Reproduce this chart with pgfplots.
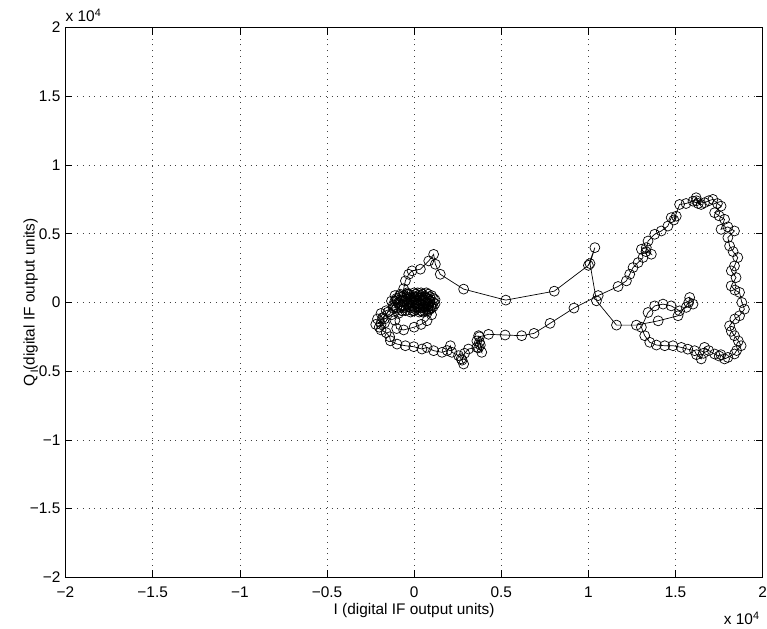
\documentclass[border=0pt]{standalone}
\usepackage{fontspec}
\setmainfont{Liberation Sans}
\usepackage{pgfplots}
\pgfplotsset{compat=1.18}
\begin{document}
\fontsize{15.5}{18}\selectfont
\begin{tikzpicture}
\begin{axis}[name=ax, scale only axis, width=699.3bp, height=551.3bp,
  xmin=-2, xmax=2, ymin=-2, ymax=2,
  xtick={-2,-1.5,-1,-0.5,0,0.5,1,1.5,2},
  ytick={-2,-1.5,-1,-0.5,0,0.5,1,1.5,2},
  xticklabels={−2,−1.5,−1,−0.5,0,0.5,1,1.5,2},
  yticklabels={−2,−1.5,−1,−0.5,0,0.5,1,1.5,2},
  grid=major, grid style={black!75, line width=0.6bp, dash pattern=on 0.8bp off 5bp},
  tick align=inside, major tick length=7bp,
  axis line style={line width=0.8bp},
  every tick/.style={black, line width=0.6bp},
  xticklabel style={font=\fontsize{15.5}{18}\selectfont, inner sep=0pt, anchor=north, yshift=-9bp},
  yticklabel style={font=\fontsize{15.5}{18}\selectfont, inner sep=0pt, anchor=east, xshift=-5bp},
  scaled ticks=false,
]
\addplot[black, line width=0.7bp, mark=o, mark size=5bp, mark options={line width=0.7bp}] coordinates {
(0.00,0.00) (0.04,0.02) (0.07,0.00) (0.05,-0.04) (0.01,-0.05) (-0.03,-0.03) (-0.05,0.01) (-0.02,0.04) (0.02,0.05) (0.06,0.04) (0.09,0.01) (0.08,-0.03) (0.04,-0.06) (-0.01,-0.06) (-0.06,-0.04) (-0.09,0.00) (-0.07,0.04) (-0.03,0.06) (0.01,0.06) (0.05,0.06) (0.09,0.04) (0.11,0.00) (0.10,-0.04) (0.06,-0.06) (0.02,-0.04)
(-0.01,-0.02) (-0.04,0.00) (-0.02,0.03) (0.03,0.03) (0.06,0.02) (0.08,-0.01) (0.05,-0.02) (0.01,-0.01) (-0.03,-0.01) (-0.07,-0.02) (-0.10,0.02) (-0.08,0.06) (-0.04,0.07) (0.02,0.07) (0.07,0.07) (0.10,0.05) (0.12,0.02) (0.11,-0.03) (0.08,-0.06) (0.03,-0.07) (-0.02,-0.07) (-0.07,-0.06) (-0.11,-0.03) (-0.13,0.01) (-0.11,0.05)
(-0.04,-0.02) (-0.08,-0.03) (-0.12,-0.04) (-0.16,-0.06) (-0.19,-0.08) (-0.21,-0.12) (-0.22,-0.16) (-0.20,-0.18) (-0.17,-0.15) (-0.18,-0.11) (-0.15,-0.07) (-0.12,-0.02) (-0.10,0.03)
(-0.06,0.05) (-0.02,0.02) (0.01,0.01) (0.03,-0.01) (0.07,-0.05) (0.10,-0.02) (0.08,0.03) (0.04,0.05) (0.00,0.04) (-0.03,0.01) (-0.06,-0.02) (-0.10,-0.04) (-0.11,0.01) (-0.08,0.05) (-0.04,0.06) (0.00,0.07) (0.04,0.07) (0.08,0.06) (0.11,0.03) (0.12,-0.01) (0.09,-0.05) (0.05,-0.07) (0.00,-0.06) (-0.05,-0.06)
(-0.09,-0.08) (-0.11,-0.13) (-0.10,-0.19) (-0.06,-0.20) (0.00,-0.18) (0.04,-0.16) (0.074,-0.133) (0.10,-0.09) (0.08,-0.05) (0.03,-0.03) (-0.02,-0.04) (-0.07,-0.06) (-0.13,-0.09) (-0.17,-0.12) (-0.19,-0.16) (-0.19,-0.20) (-0.16,-0.22) (-0.14,-0.25) (-0.136,-0.279) (-0.098,-0.303) (-0.05,-0.315) (-0.002,-0.322) (0.045,-0.339) (0.074,-0.327) (0.112,-0.351) (0.16,-0.363) (0.19,-0.35) (0.208,-0.315) (0.217,-0.363) (0.255,-0.387) (0.27,-0.41) (0.284,-0.448) (0.275,-0.42) (0.29,-0.37) (0.312,-0.339) (0.36,-0.327) (0.375,-0.29) (0.37,-0.242) (0.38,-0.31) (0.388,-0.363) (0.37,-0.33) (0.36,-0.28) (0.375,-0.25) (0.427,-0.232) (0.522,-0.237) (0.617,-0.242) (0.688,-0.225) (0.78,-0.152) (0.917,-0.041) (1.056,0.05)
(1.17,0.116) (1.218,0.157) (1.237,0.205) (1.256,0.254) (1.285,0.29) (1.313,0.327) (1.304,0.387) (1.332,0.399) (1.361,0.351) (1.33,0.37) (1.342,0.447) (1.38,0.496) (1.418,0.52) (1.456,0.556) (1.475,0.617) (1.504,0.628) (1.49,0.60) (1.523,0.713) (1.56,0.72) (1.6,0.737) (1.618,0.762) (1.63,0.72) (1.647,0.713) (1.62,0.74) (1.666,0.726) (1.69,0.74) (1.714,0.75) (1.74,0.72) (1.761,0.701) (1.724,0.653) (1.75,0.63) (1.781,0.605) (1.761,0.532) (1.80,0.55) (1.838,0.52) (1.80,0.472) (1.81,0.411) (1.83,0.37) (1.857,0.327) (1.838,0.266) (1.82,0.23) (1.847,0.181) (1.819,0.12) (1.84,0.09) (1.867,0.073) (1.88,0.0) (1.895,-0.049) (1.867,-0.097) (1.84,-0.12) (1.81,-0.17) (1.82,-0.21) (1.838,-0.242) (1.86,-0.28) (1.876,-0.315) (1.85,-0.35) (1.838,-0.375) (1.80,-0.40) (1.781,-0.411) (1.76,-0.38) (1.75,-0.39) (1.724,-0.375) (1.69,-0.35) (1.666,-0.327) (1.66,-0.37) (1.647,-0.411) (1.62,-0.38) (1.609,-0.351) (1.57,-0.34) (1.533,-0.327) (1.485,-0.315) (1.438,-0.315) (1.39,-0.31) (1.352,-0.29) (1.323,-0.242) (1.304,-0.181) (1.342,-0.073) (1.38,-0.025) (1.428,-0.012) (1.475,-0.025) (1.523,-0.061) (1.561,-0.036) (1.6,-0.012) (1.581,0.036) (1.575,0.0) (1.514,-0.097) (1.4,-0.134) (1.275,-0.165) (1.161,-0.165) (1.046,0.012) (1.009,0.283) (1.037,0.399) (1.0,0.27) (0.804,0.082) (0.526,0.017) (0.284,0.097) (0.15,0.205) (0.122,0.278) (0.112,0.35) (0.084,0.302) (0.036,0.242) (-0.012,0.23) (-0.031,0.205) (-0.05,0.157) (-0.06,0.10)
(-0.04,0.06) (0.00,0.03) (0.05,0.02) (0.08,-0.01) (0.06,-0.03) (0.02,-0.02) (-0.01,0.00) (0.02,0.02)
};
\end{axis}
\node[anchor=base west, inner sep=0pt] at ([yshift=6bp]ax.north west) {x 10\textsuperscript{4}};
\node[anchor=base east, inner sep=0pt] at ([xshift=-3bp,yshift=-47.5bp]ax.south east) {x 10\textsuperscript{4}};
\node[anchor=base, inner sep=0pt] at ([yshift=-37.5bp]ax.south) {I (digital IF output units)};
\node[anchor=base, rotate=90, inner sep=0pt] at ([xshift=-31bp]ax.west) {Q (digital IF output units)};
\path[use as bounding box] ([xshift=-65.7bp,yshift=-51bp]ax.south west) rectangle ([xshift=2bp,yshift=27.7bp]ax.north east);
\end{tikzpicture}
\end{document}
